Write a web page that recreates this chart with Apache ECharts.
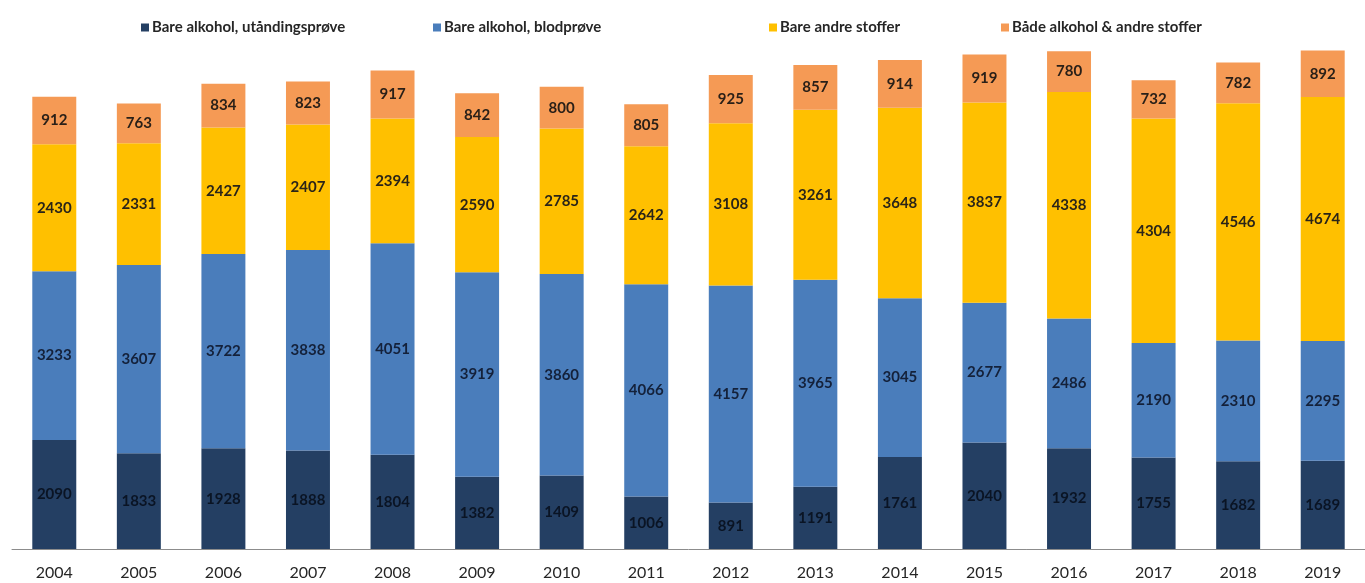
<!DOCTYPE html>
<html>
<head>
<meta charset="utf-8">
<script src="https://cdn.jsdelivr.net/npm/echarts@6/dist/echarts.min.js"></script>
<style>
  html, body { margin: 0; padding: 0; background: #fff; }
  #chart { width: 1365px; height: 583px; }
</style>
</head>
<body>
<div id="chart"></div>
<script>
const years = ['2004','2005','2006','2007','2008','2009','2010','2011','2012','2013','2014','2015','2016','2017','2018','2019'];
const utanding = [2090,1833,1928,1888,1804,1382,1409,1006,891,1191,1761,2040,1932,1755,1682,1689];
const blodprove = [3233,3607,3722,3838,4051,3919,3860,4066,4157,3965,3045,2677,2486,2190,2310,2295];
const andreStoffer = [2430,2331,2427,2407,2394,2590,2785,2642,3108,3261,3648,3837,4338,4304,4546,4674];
const begge = [912,763,834,823,917,842,800,805,925,857,914,919,780,732,782,892];

const seriesNames = ['Bare alkohol, utåndingsprøve','Bare alkohol, blodprøve','Bare andre stoffer','Både alkohol & andre stoffer'];
const seriesData = [utanding, blodprove, andreStoffer, begge];
const colors = ['#243f63','#4a7dbb','#ffc000','#f59a55'];
const labelColors = ['#0a1424','#14213a','#2a2418','#2a2018'];
const legendLeft = [136, 428, 764, 996];

const font = 'Lato, "Open Sans", sans-serif';

const chart = echarts.init(document.getElementById('chart'));
chart.setOption({
  animation: false,
  color: colors,
  // one legend block per series so each entry sits at its own position
  legend: seriesNames.map((n, i) => ({
    data: [n],
    left: legendLeft[i],
    top: 15,
    itemWidth: 8,
    itemHeight: 8,
    icon: 'rect',
    itemGap: 0,
    textStyle: { fontFamily: font, fontSize: 15, fontWeight: 'bold', color: '#262626', padding: [0, 0, 0, -2] }
  })),
  grid: { left: 12, right: -1, top: 27, bottom: 34, containLabel: false },
  xAxis: {
    type: 'category',
    data: years,
    axisLine: { lineStyle: { color: '#8c8c8c', width: 1 } },
    axisTick: { show: false },
    axisLabel: { fontFamily: font, fontSize: 16, color: '#262626', margin: 16 }
  },
  yAxis: {
    type: 'value',
    min: 0,
    max: 10000,
    show: false,
    splitLine: { show: false }
  },
  series: seriesData.map((d, i) => ({
    name: seriesNames[i],
    type: 'bar',
    stack: 'total',
    data: d,
    barWidth: '52%',
    itemStyle: { color: colors[i] },
    label: {
      show: true,
      position: 'inside',
      fontFamily: font,
      fontSize: 15,
      fontWeight: 'bold',
      color: labelColors[i],
      textBorderWidth: 0
    }
  }))
});
</script>
</body>
</html>
